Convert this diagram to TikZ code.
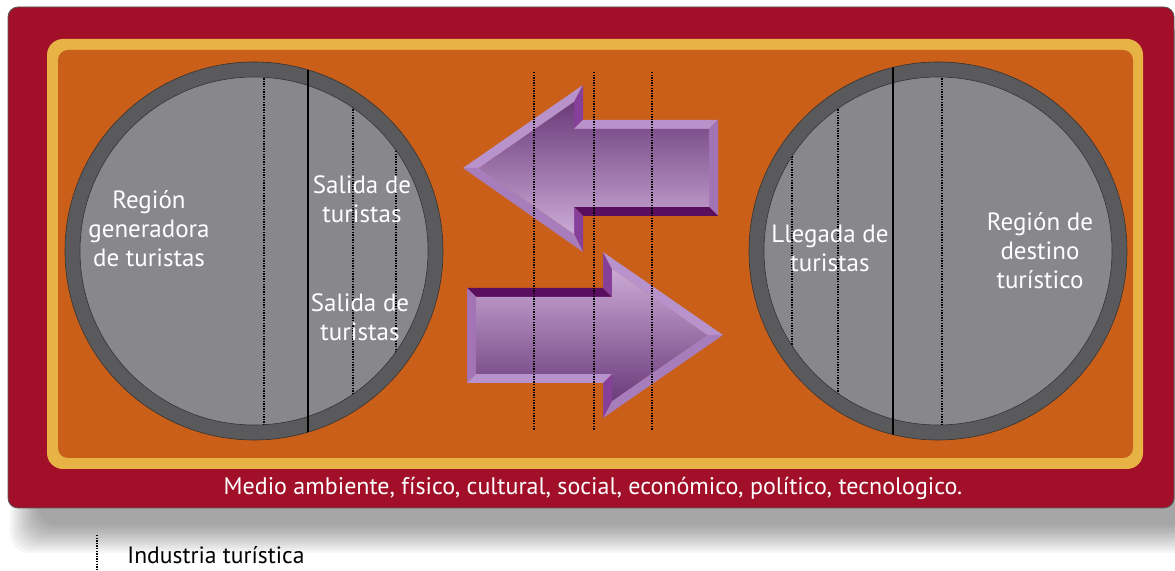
\documentclass[tikz,border=0pt]{standalone}
\usepackage{fontspec}
\newfontfamily\lab{PT Sans}
\definecolor{boxred}{HTML}{A10F28}
\definecolor{boxyel}{HTML}{E7B345}
\definecolor{boxora}{HTML}{C95F19}
\definecolor{ring}{HTML}{5A5A5C}
\definecolor{disc}{HTML}{88888C}
\definecolor{pLight}{HTML}{B892CB}
\definecolor{pMid}{HTML}{A274B6}
\definecolor{pMid2}{HTML}{A87DBB}
\definecolor{pMag}{HTML}{86409A}
\definecolor{pDark}{HTML}{5A0E5E}
\definecolor{fDark}{HTML}{6B3B7A}
\definecolor{fLight}{HTML}{CBAAD6}
\tikzset{
  dotline/.style={black, line width=0.75pt, dash pattern=on 0.7pt off 0.6pt},
  divline/.style={black, line width=1.2pt},
  wlabel/.style={text=white, font=\lab\fontsize{12.5}{14.5}\selectfont, align=center, inner sep=0pt},
}
\begin{document}
\begin{tikzpicture}[x=0.5pt,y=-0.5pt]
\useasboundingbox (0,0) rectangle (1175,571);
% shadow
\foreach \k in {1,...,12}{
  \fill[black,opacity=0.036,rounded corners=10pt] ({40-2.5*\k},{30}) rectangle ({1220},{523+2.5*\k});
}
% frames
\fill[boxred,draw=black!65,line width=0.4pt,rounded corners=5pt] (8,7) rectangle (1174,508);
\fill[boxyel,rounded corners=8pt] (47,39) rectangle (1143,469);
\fill[boxora,rounded corners=5pt] (58,50) rectangle (1133,458);
% left circle
\fill[ring,draw=black!80,line width=0.3pt] (254,251) circle[radius=94.5pt];
\fill[disc,draw=black!80,line width=0.3pt] (254,251) circle[radius=87pt];
\begin{scope}
  \clip (254,251) circle[radius=87pt];
  \draw[dotline] (264,60) -- (264,440);
  \draw[dotline] (353,60) -- (353,440);
  \draw[dotline] (396,60) -- (396,440);
\end{scope}
\begin{scope}
  \clip (254,251) circle[radius=94.5pt];
  \draw[divline] (308,60) -- (308,440);
\end{scope}
% right circle
\fill[ring,draw=black!80,line width=0.3pt] (938,251) circle[radius=94.5pt];
\fill[disc,draw=black!80,line width=0.3pt] (938,251) circle[radius=87pt];
\begin{scope}
  \clip (938,251) circle[radius=87pt];
  \draw[dotline] (942,60) -- (942,440);
  \draw[dotline] (838,60) -- (838,440);
  \draw[dotline] (792,60) -- (792,440);
\end{scope}
\begin{scope}
  \clip (938,251) circle[radius=94.5pt];
  \draw[divline] (893,60) -- (893,440);
\end{scope}
% left arrow
\fill[pLight] (463,168) -- (583,85) -- (574,102) -- (479,168) -- cycle;
\fill[pMag] (583,85) -- (583,120) -- (574,129) -- (574,102) -- cycle;
\fill[pLight] (583,120) -- (718,120) -- (709,129) -- (574,129) -- cycle;
\fill[pMid] (718,120) -- (718,216) -- (709,207) -- (709,129) -- cycle;
\fill[pDark] (718,216) -- (583,216) -- (574,207) -- (709,207) -- cycle;
\fill[pMag] (583,216) -- (583,252) -- (574,234) -- (574,207) -- cycle;
\fill[pMid2] (583,252) -- (463,168) -- (479,168) -- (574,234) -- cycle;
\shade[top color=fDark,bottom color=fLight] (479,168) -- (574,102) -- (574,129) -- (709,129) -- (709,207) -- (574,207) -- (574,234) -- cycle;
% right arrow
\fill[pDark] (467,288) -- (603,288) -- (612,297) -- (476,297) -- cycle;
\fill[pMag] (603,288) -- (603,252) -- (612,269) -- (612,297) -- cycle;
\fill[pLight] (603,252) -- (723,335) -- (707,335) -- (612,269) -- cycle;
\fill[pMid2] (723,335) -- (603,418) -- (612,401) -- (707,335) -- cycle;
\fill[pMag] (603,418) -- (603,383) -- (612,374) -- (612,401) -- cycle;
\fill[pLight] (603,383) -- (467,383) -- (476,374) -- (612,374) -- cycle;
\fill[pMid] (467,383) -- (467,288) -- (476,297) -- (476,374) -- cycle;
\shade[top color=fLight,bottom color=fDark] (476,297) -- (612,297) -- (612,269) -- (707,335) -- (612,401) -- (612,374) -- (476,374) -- cycle;
% middle dotted lines
\draw[dotline] (534,72) -- (534,430);
\draw[dotline] (594,72) -- (594,430);
\draw[dotline] (652,72) -- (652,430);
% texts
\node[wlabel] (gen) at (149,229) {Región\\generadora\\de turistas};
\node[wlabel] (sal1) at (362,199) {Salida de\\turistas};
\node[wlabel] (sal2) at (360,317) {Salida de\\turistas};
\node[wlabel] (lle) at (830,248) {Llegada de\\turistas};
\node[wlabel] (des) at (1040,251) {Región de\\destino\\turístico};
\node[wlabel, font=\lab\fontsize{12}{13}\selectfont] (medio) at (593,488) {Medio ambiente, físico, cultural, social, económico, político, tecnologico.};
% legend
\draw[dotline] (97,535) -- (97,571);
\node[inner sep=0pt, anchor=west, font=\lab\fontsize{11.8}{13}\selectfont] (ind) at (127,555) {Industria turística};
\end{tikzpicture}
\end{document}
